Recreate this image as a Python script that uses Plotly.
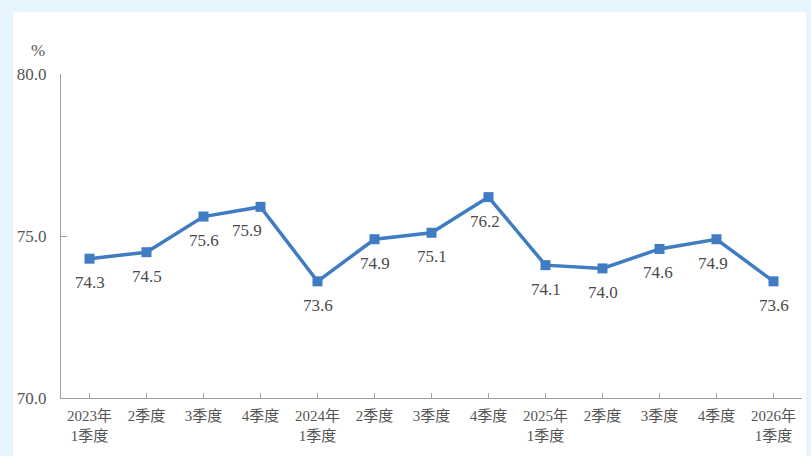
import plotly.graph_objects as go

categories = ["2023年<br>1季度", "2季度", "3季度", "4季度", "2024年<br>1季度", "2季度", "3季度", "4季度",
              "2025年<br>1季度", "2季度", "3季度", "4季度", "2026年<br>1季度"]
values = [74.3, 74.5, 75.6, 75.9, 73.6, 74.9, 75.1, 76.2, 74.1, 74.0, 74.6, 74.9, 73.6]
label_xshift = [0, 0, 0, -14, 0, 0, 0, -4, 0, 0, -2, -4, 0]
ytick_vals = [70, 75, 80]
ytick_text = ["70.0", "75.0", "80.0"]

x_idx = list(range(len(categories)))
FONT = "Liberation Serif, Noto Sans CJK SC, serif"
GRAY = "#555555"
BLUE = "#3f7cc2"

fig = go.Figure()
fig.add_trace(go.Scatter(
    x=x_idx, y=values, mode="lines+markers",
    line=dict(color=BLUE, width=3.5),
    marker=dict(symbol="square", size=10, color=BLUE),
    cliponaxis=False, hoverinfo="skip",
))

annotations = [dict(text="%", xref="paper", yref="paper",
                    x=(37.5 - 61) / 741, y=(398 - 51) / 324,
                    xanchor="center", yanchor="middle",
                    showarrow=False, font=dict(size=17, color=GRAY, family=FONT))]
for xi, v, dx in zip(x_idx, values, label_xshift):
    annotations.append(dict(x=xi, y=v, xref="x", yref="y", text=f"{v:.1f}",
                            showarrow=False, yshift=-24, xshift=dx,
                            font=dict(family=FONT, size=17, color="#4a4a4a")))

fig.update_layout(
    width=811, height=456,
    margin=dict(l=61, r=9, t=74, b=58, autoexpand=False),
    paper_bgcolor="#e6f4fd", plot_bgcolor="white",
    showlegend=False,
    font=dict(family=FONT, color=GRAY, size=16),
    shapes=[dict(type="rect", xref="paper", yref="paper",
                 x0=(13 - 61) / 741, x1=(806 - 61) / 741,
                 y0=(398 - 470) / 324, y1=(398 - 12) / 324,
                 fillcolor="white", line=dict(width=0), layer="below")],
    annotations=annotations,
)
fig.update_xaxes(
    tickmode="array", tickvals=x_idx, ticktext=categories,
    range=[-0.5, len(categories) - 0.5],
    showgrid=False, zeroline=False,
    showline=True, linecolor="#a0a0a0", linewidth=1.2,
    ticks="inside", ticklen=5, tickcolor="#a0a0a0", tickson="boundaries",
    tickfont=dict(family=FONT, size=15, color=GRAY), tickangle=0,
    ticklabelstandoff=4,
)
fig.update_yaxes(
    range=[70, 80], tickmode="array", tickvals=ytick_vals, ticktext=ytick_text,
    showgrid=False, zeroline=False,
    showline=True, linecolor="#a0a0a0", linewidth=1.2,
    ticks="inside", ticklen=6, tickcolor="#a0a0a0",
    tickfont=dict(family=FONT, size=17, color=GRAY), ticklabelstandoff=10,
)
fig.write_html("out.html", config={"displayModeBar": False},
               post_script="document.body.style.margin='0';document.body.style.background='#e6f4fd';")
